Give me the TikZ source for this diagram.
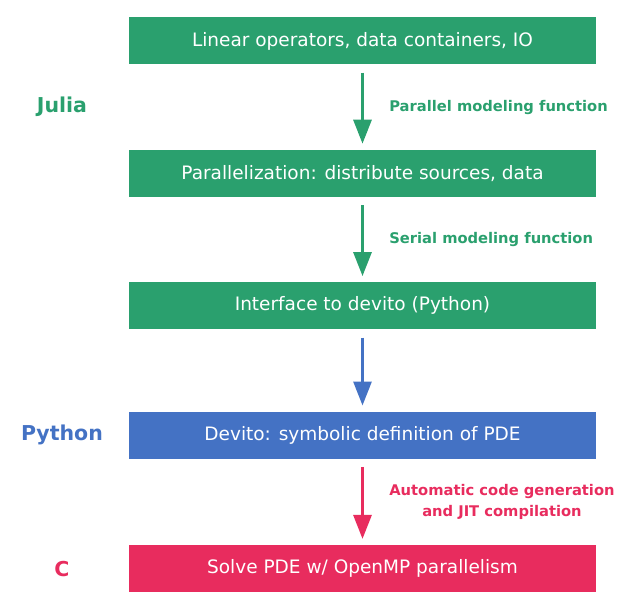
\documentclass[tikz,border=0pt]{standalone}
\usepackage{fontspec}
\setmainfont{DejaVu Sans}
\usetikzlibrary{positioning, arrows.meta}
\definecolor{my_green}{RGB}{42, 160, 110}
\definecolor{my_blue}{RGB}{68, 114, 196}
\definecolor{my_red}{RGB}{232, 44, 94}
\tikzset {
  box/.style = {rectangle, minimum height=47pt, minimum width=467pt, inner sep=0pt, text=white, font=\fontsize{18.5}{22}\selectfont},
  lang/.style = {font=\fontsize{20.5}{24}\selectfont\bfseries},
  line/.style = {-{Triangle[width=18pt, length=24pt]}, line width=3pt, shorten <=8pt, shorten >=6pt},
  steptext/.style = {midway, right=22pt, align=center, font=\fontsize{14.7}{21}\selectfont\bfseries}
}

\begin{document}
\begin{tikzpicture}[node distance=85pt]
    \useasboundingbox (0,0) rectangle (624pt,-607pt);

    \node[box, fill=my_green] (linops) at (362.5pt,-41pt) {Linear operators, data containers, IO};
    \node[box, fill=my_green, below=of linops] (parallel) {Parallelization: distribute sources, data};
    \node[box, fill=my_green, below=of parallel] (iface) {Interface to devito (Python)};
    \node[box, fill=my_blue, below=82pt of iface] (devito) {Devito: symbolic definition of PDE};
    \node[box, fill=my_red, below=86pt of devito] (solve) {Solve PDE w/ OpenMP parallelism};

    \draw[line, my_green] (linops) -- node[steptext, text=my_green] {Parallel modeling function} coordinate[midway] (m1) (parallel);
    \draw[line, my_green] (parallel) -- node[steptext, text=my_green] {Serial modeling function} (iface);
    \draw[line, my_blue] (iface) -- (devito);
    \draw[line, my_red] (devito) -- node[steptext, text=my_red] {Automatic code generation\\and JIT compilation} (solve);

    \coordinate (langx) at (62pt,0);
    \node[lang, text=my_green] (julia) at (langx |- m1) {Julia};
    \node[lang, text=my_blue] (python) at (langx |- devito) {Python};
    \node[lang, text=my_red] (clang) at (langx |- solve) {C};

\end{tikzpicture}
\end{document}
